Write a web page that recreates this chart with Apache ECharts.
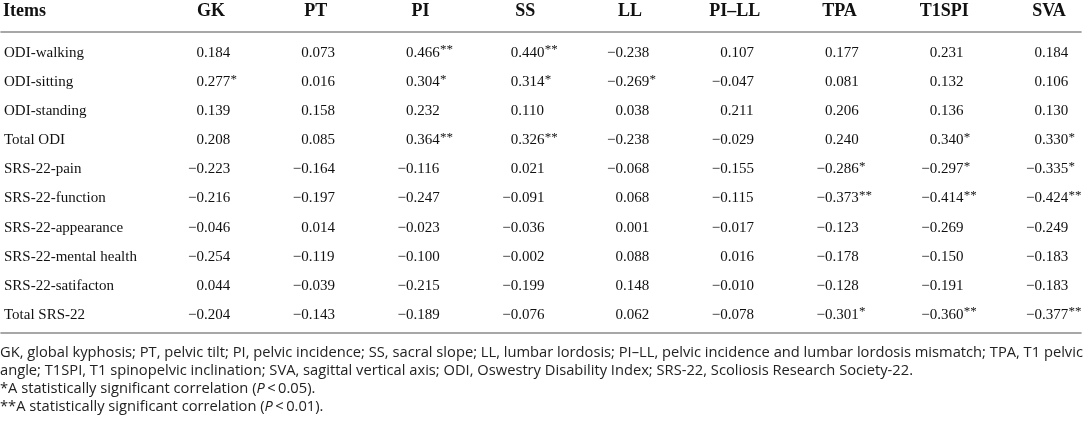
<!DOCTYPE html>
<html>
<head>
<meta charset="utf-8">
<script src="https://cdn.jsdelivr.net/npm/echarts@6/dist/echarts.min.js"></script>
<style>
    html, body { margin: 0; padding: 0; background: #fff; }
    #table { width: 1084px; height: 423px; }
</style>
</head>
<body>
<div id="table"></div>
<script>
// 表格行、列
var rows = ['ODI-walking', 'ODI-sitting', 'ODI-standing', 'Total ODI', 'SRS-22-pain', 'SRS-22-function',
    'SRS-22-appearance', 'SRS-22-mental health', 'SRS-22-satifacton', 'Total SRS-22'];
var cols = ['GK', 'PT', 'PI', 'SS', 'LL', 'PI\u2013LL', 'TPA', 'T1SPI', 'SVA'];

// 每列的相关系数
var gk = [0.184, 0.277, 0.139, 0.208, -0.223, -0.216, -0.046, -0.254, 0.044, -0.204];
var pt = [0.073, 0.016, 0.158, 0.085, -0.164, -0.197, 0.014, -0.119, -0.039, -0.143];
var pi = [0.466, 0.304, 0.232, 0.364, -0.116, -0.247, -0.023, -0.100, -0.215, -0.189];
var ss = [0.440, 0.314, 0.110, 0.326, 0.021, -0.091, -0.036, -0.002, -0.199, -0.076];
var ll = [-0.238, -0.269, 0.038, -0.238, -0.068, 0.068, 0.001, 0.088, 0.148, 0.062];
var pill = [0.107, -0.047, 0.211, -0.029, -0.155, -0.115, -0.017, 0.016, -0.010, -0.078];
var tpa = [0.177, 0.081, 0.206, 0.240, -0.286, -0.373, -0.123, -0.178, -0.128, -0.301];
var t1spi = [0.231, 0.132, 0.136, 0.340, -0.297, -0.414, -0.269, -0.150, -0.191, -0.360];
var sva = [0.184, 0.106, 0.130, 0.330, -0.335, -0.424, -0.249, -0.183, -0.183, -0.377];

// 显著性星号个数 (1 = P<0.05, 2 = P<0.01)
var gkSig = [0, 1, 0, 0, 0, 0, 0, 0, 0, 0];
var ptSig = [0, 0, 0, 0, 0, 0, 0, 0, 0, 0];
var piSig = [2, 1, 0, 2, 0, 0, 0, 0, 0, 0];
var ssSig = [2, 1, 0, 2, 0, 0, 0, 0, 0, 0];
var llSig = [0, 1, 0, 0, 0, 0, 0, 0, 0, 0];
var pillSig = [0, 0, 0, 0, 0, 0, 0, 0, 0, 0];
var tpaSig = [0, 0, 0, 0, 1, 2, 0, 0, 0, 1];
var t1spiSig = [0, 0, 0, 1, 1, 2, 0, 0, 0, 2];
var svaSig = [0, 0, 0, 1, 1, 2, 0, 0, 0, 2];

var colValues = [gk, pt, pi, ss, ll, pill, tpa, t1spi, sva];
var colSigs = [gkSig, ptSig, piSig, ssSig, llSig, pillSig, tpaSig, t1spiSig, svaSig];

var SERIF = '"Liberation Serif", "Times New Roman", serif';
var SANS = '"Open Sans", "Noto Sans", sans-serif';

// 拼出单元格数据
var cells = [];
for (var c = 0; c < cols.length; c++) {
    for (var r = 0; r < rows.length; r++) {
        cells.push([c, r, colValues[c][r], colSigs[c][r]]);
    }
}

// 按小数点对齐：整数部分右对齐，小数部分左对齐
function renderCell(params, api) {
    var p = api.coord([api.value(0), api.value(1)]);
    var v = api.value(2);
    var s = Number(api.value(3));
    var txt = Math.abs(v).toFixed(3);
    var intPart = (v < 0 ? '\u2212' : '') + txt.split('.')[0];
    var fracPart = '.' + txt.split('.')[1];
    var stars = s === 2 ? '**' : (s === 1 ? '*' : '');
    return {
        type: 'group',
        children: [{
            type: 'text',
            x: p[0],
            y: p[1],
            style: {
                text: intPart,
                align: 'right',
                verticalAlign: 'middle',
                fontFamily: SERIF,
                fontSize: 15,
                fill: '#111'
            }
        }, {
            type: 'text',
            x: p[0],
            y: p[1],
            style: {
                text: fracPart,
                align: 'left',
                verticalAlign: 'middle',
                fontFamily: SERIF,
                fontSize: 15,
                fill: '#111'
            }
        }, {
            // 星号：略小、上移
            type: 'text',
            x: p[0] + 26.5,
            y: p[1] - 3,
            style: {
                text: stars,
                align: 'left',
                verticalAlign: 'middle',
                fontFamily: SERIF,
                fontSize: 13,
                fill: '#111'
            }
        }]
    };
}

var myChart = echarts.init(document.getElementById('table'), null, { renderer: 'canvas' });
var option = {
    backgroundColor: '#fff',
    animation: false,
    title: {
        left: 0,
        top: 344,
        padding: 0,
        text: '{n|GK, global kyphosis; PT, pelvic tilt; PI, pelvic incidence; SS, sacral slope; LL, lumbar lordosis; PI\u2013LL, pelvic incidence and lumbar lordosis mismatch; TPA, T1 pelvic}\n' +
            '{n|angle; T1SPI, T1 spinopelvic inclination; SVA, sagittal vertical axis; ODI, Oswestry Disability Index; SRS-22, Scoliosis Research Society-22.}\n' +
            '{n|*A statistically significant correlation (}{i|P}{n|\u2009<\u20090.05).}\n' +
            '{n|**A statistically significant correlation (}{i|P}{n|\u2009<\u20090.01).}',
        textStyle: {
            fontWeight: 'normal',
            rich: {
                n: { fontFamily: SANS, fontSize: 14.7, fontWeight: 'normal', color: '#222', lineHeight: 18 },
                i: { fontFamily: SANS, fontSize: 14.7, fontWeight: 'normal', color: '#222', lineHeight: 18, fontStyle: 'italic' }
            }
        }
    },
    grid: [
        // 整体表格：横线 + 行名
        { left: 0, right: 0, top: 38.5, height: 291 },
        // 数值区域
        { left: 204, right: 42, top: 38.5, height: 291 }
    ],
    xAxis: [{
        gridIndex: 0,
        type: 'value',
        position: 'top',
        offset: 7,
        min: 0,
        max: 1,
        axisLine: { show: true, onZero: false, lineStyle: { color: '#8a8a8a', width: 1.6 } },
        axisTick: { show: false },
        axisLabel: {
            show: true,
            formatter: function (val) { return val === 0 ? 'Items' : ''; },
            align: 'left',
            margin: 11,
            fontFamily: SERIF,
            fontSize: 18,
            fontWeight: 'bold',
            color: '#111',
            padding: [0, 0, 0, 2]
        },
        splitLine: { show: false }
    }, {
        gridIndex: 0,
        type: 'value',
        position: 'bottom',
        offset: 3.5,
        min: 0,
        max: 1,
        axisLine: { show: true, onZero: false, lineStyle: { color: '#8a8a8a', width: 1.6 } },
        axisTick: { show: false },
        axisLabel: { show: false },
        splitLine: { show: false }
    }, {
        gridIndex: 1,
        type: 'category',
        position: 'top',
        offset: 7,
        boundaryGap: false,
        data: cols,
        axisLine: { show: false },
        axisTick: { show: false },
        axisLabel: {
            interval: 0,
            margin: 11,
            fontFamily: SERIF,
            fontSize: 18,
            fontWeight: 'bold',
            color: '#111',
            padding: [0, 0, 0, 14]
        },
        splitLine: { show: false }
    }],
    yAxis: [{
        gridIndex: 0,
        type: 'category',
        inverse: true,
        data: rows,
        axisLine: { show: false },
        axisTick: { show: false },
        axisLabel: {
            interval: 0,
            align: 'left',
            margin: -3,
            fontFamily: SERIF,
            fontSize: 15,
            color: '#111'
        },
        splitLine: { show: false }
    }, {
        gridIndex: 1,
        type: 'category',
        inverse: true,
        data: rows,
        show: false
    }],
    series: [{
        name: 'correlation',
        type: 'custom',
        xAxisIndex: 2,
        yAxisIndex: 1,
        data: cells,
        renderItem: renderCell,
        silent: true
    }]
};
myChart.setOption(option);
</script>
</body>
</html>
